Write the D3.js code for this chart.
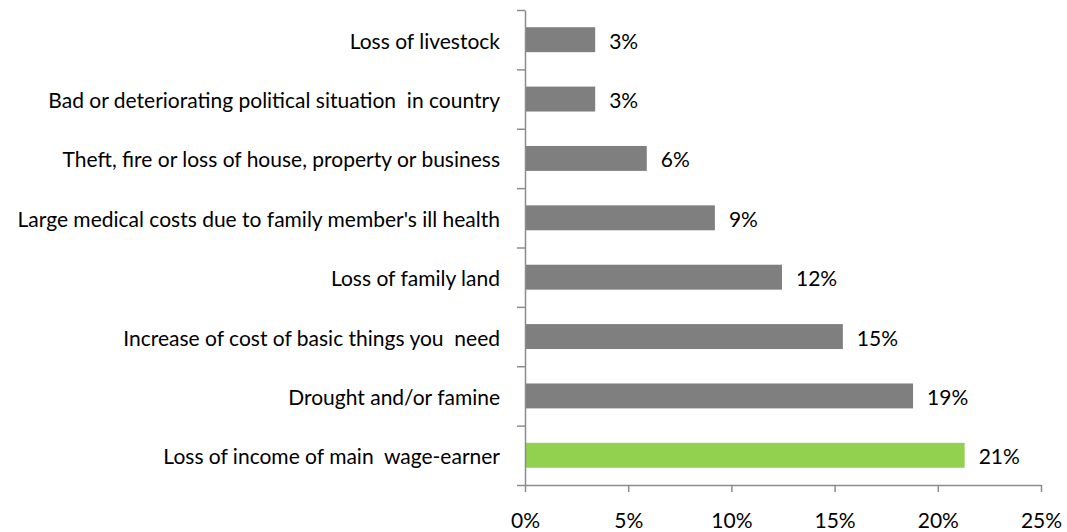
<!DOCTYPE html>
<html>
<head>
<meta charset="utf-8">
<script src="https://cdn.jsdelivr.net/npm/d3@7"></script>
<style>
  html, body { margin: 0; padding: 0; background: #fff; }
  svg { display: block; }
  text { font-family: Lato, "Open Sans", sans-serif; fill: #000; white-space: pre; }
</style>
</head>
<body>
<svg id="chart" width="1067" height="532"></svg>
<script>
// Shocks reported by households, share of respondents
const categories = [
  "Loss of livestock",
  "Bad or deteriorating political situation  in country",
  "Theft, fire or loss of house, property or business",
  "Large medical costs due to family member's ill health",
  "Loss of family land",
  "Increase of cost of basic things you  need",
  "Drought and/or famine",
  "Loss of income of main  wage-earner"
];
const values = [0.034, 0.034, 0.059, 0.092, 0.1245, 0.154, 0.188, 0.213];
const xTicks = [0, 0.05, 0.10, 0.15, 0.20, 0.25];
const highlighted = "Loss of income of main  wage-earner";

const svg = d3.select("#chart");
const plotLeft = 525, plotRight = 1041, plotTop = 10, plotBottom = 485;
const axisColor = "#8c8c8c";
const fontSize = 21;

const x = d3.scaleLinear().domain([0, 0.25]).range([plotLeft, plotRight]);
const y = d3.scaleBand().domain(categories).range([plotTop, plotBottom])
  .paddingInner(0.58).paddingOuter(0.29);

// Slot boundaries for the category axis ticks
const slot = d3.scaleLinear().domain([0, categories.length]).range([plotTop, plotBottom]);

// Bars
svg.append("g").selectAll("rect")
  .data(categories)
  .join("rect")
  .attr("x", x(0))
  .attr("y", d => y(d))
  .attr("width", (d, i) => x(values[i]) - x(0))
  .attr("height", y.bandwidth())
  .attr("fill", d => d === highlighted ? "#92d050" : "#7f7f7f");

// Category axis: line plus ticks between categories
const yAxis = svg.append("g")
  .attr("transform", `translate(${plotLeft},0)`)
  .call(d3.axisLeft(slot).tickValues(d3.range(categories.length + 1))
    .tickSize(8).tickSizeOuter(0).tickFormat(""));
yAxis.select(".domain").attr("stroke", axisColor).attr("stroke-width", 1.5);
yAxis.selectAll(".tick line").attr("stroke", axisColor).attr("stroke-width", 1.5);

// Category labels
svg.append("g").selectAll("text")
  .data(categories)
  .join("text")
  .attr("x", 500)
  .attr("y", d => y(d) + y.bandwidth() / 2 + 9)
  .attr("text-anchor", "end")
  .attr("font-size", fontSize)
  .text(d => d);

// Value axis
const xAxis = svg.append("g")
  .attr("transform", `translate(0,${plotBottom})`)
  .call(d3.axisBottom(x).tickValues(xTicks).tickSize(7).tickSizeOuter(0)
    .tickFormat(d3.format(".0%")));
xAxis.attr("font-family", null).attr("font-size", null);
xAxis.select(".domain").attr("stroke", axisColor).attr("stroke-width", 1.5);
xAxis.selectAll(".tick line").attr("stroke", axisColor).attr("stroke-width", 1.5);
xAxis.selectAll(".tick text")
  .attr("y", 43).attr("dy", 0)
  .attr("font-size", fontSize)
  .attr("fill", "#000");

// Value labels
svg.append("g").selectAll("text")
  .data(categories)
  .join("text")
  .attr("x", (d, i) => x(values[i]) + 14)
  .attr("y", d => y(d) + y.bandwidth() / 2 + 9)
  .attr("font-size", fontSize)
  .text((d, i) => d3.format(".0%")(values[i]));
</script>
</body>
</html>
